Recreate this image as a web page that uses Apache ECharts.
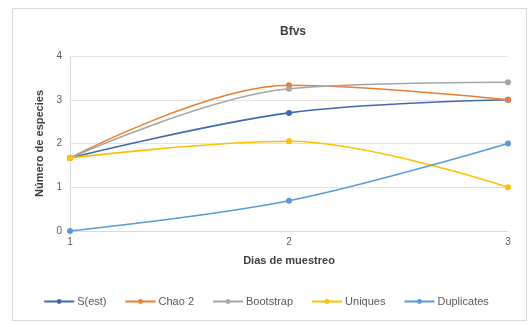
<!DOCTYPE html>
<html>
<head>
<meta charset="utf-8">
<script src="https://cdn.jsdelivr.net/npm/echarts@6/dist/echarts.min.js"></script>
<style>
    html, body { margin: 0; padding: 0; background: #fff; }
    .frame {
        position: absolute; left: 12px; top: 8px; width: 515px; height: 313px;
        border: 1px solid #d9d9d9; box-sizing: border-box;
    }
    #chart { position: absolute; left: 0; top: 0; width: 532px; height: 325px; }
</style>
</head>
<body>
<div class="frame"></div>
<div id="chart"></div>
<script>
    var days = ['1', '2', '3'];
    var sEst = [1.67, 2.7, 3.0];
    var chao2 = [1.67, 3.33, 3.0];
    var bootstrap = [1.67, 3.25, 3.4];
    var uniques = [1.67, 2.05, 1.0];
    var duplicates = [0, 0.69, 2.0];
    var yTicks = [0, 1, 2, 3, 4];

    var myChart = echarts.init(document.getElementById('chart'));

    function line(name, data, color) {
        return {
            name: name,
            type: 'line',
            smooth: 0.35,
            data: data,
            symbol: 'circle',
            symbolSize: 6,
            lineStyle: { color: color, width: 1.6 },
            itemStyle: { color: color }
        };
    }

    let chartData = {
        title: {
            text: 'Bfvs',
            left: 288,
            top: 21,
            textAlign: 'center',
            textStyle: { fontFamily: 'Liberation Sans', fontSize: 12, fontWeight: 'bold', color: '#404040' }
        },
        grid: {
            left: 70,
            right: 24,
            top: 56,
            bottom: 94
        },
        legend: {
            top: 291,
            left: 'center',
            itemWidth: 30,
            itemHeight: 6,
            itemGap: 18,
            textStyle: { fontFamily: 'Liberation Sans', fontSize: 11, color: '#595959', padding: [0, 0, 0, -2] },
            data: ['S(est)', 'Chao 2', 'Bootstrap', 'Uniques', 'Duplicates']
        },
        xAxis: {
            type: 'category',
            data: days,
            boundaryGap: false,
            name: 'Dias de muestreo',
            nameLocation: 'middle',
            nameGap: 24,
            nameTextStyle: { fontFamily: 'Liberation Sans', fontSize: 11, fontWeight: 'bold', color: '#404040' },
            axisLine: { lineStyle: { color: '#d9d9d9' } },
            axisTick: { show: false },
            axisLabel: { color: '#595959', fontFamily: 'Liberation Sans', fontSize: 10, margin: 6 }
        },
        yAxis: {
            type: 'value',
            min: yTicks[0],
            max: yTicks[yTicks.length - 1],
            interval: 1,
            name: 'Número de especies',
            nameLocation: 'middle',
            nameGap: 20,
            nameTextStyle: { fontFamily: 'Liberation Sans', fontSize: 11, fontWeight: 'bold', color: '#404040' },
            axisLine: { show: true, lineStyle: { color: '#d9d9d9' } },
            axisTick: { show: false },
            axisLabel: { color: '#595959', fontFamily: 'Liberation Sans', fontSize: 10, margin: 8 },
            splitLine: { lineStyle: { color: '#e4e4e4' } }
        },
        series: [
            line('S(est)', sEst, '#4169b0'),
            line('Chao 2', chao2, '#ED7D31'),
            line('Bootstrap', bootstrap, '#A5A5A5'),
            line('Uniques', uniques, '#FFC000'),
            line('Duplicates', duplicates, '#5B9BD5')
        ]
    };
    myChart.setOption(chartData);
</script>
</body>
</html>
